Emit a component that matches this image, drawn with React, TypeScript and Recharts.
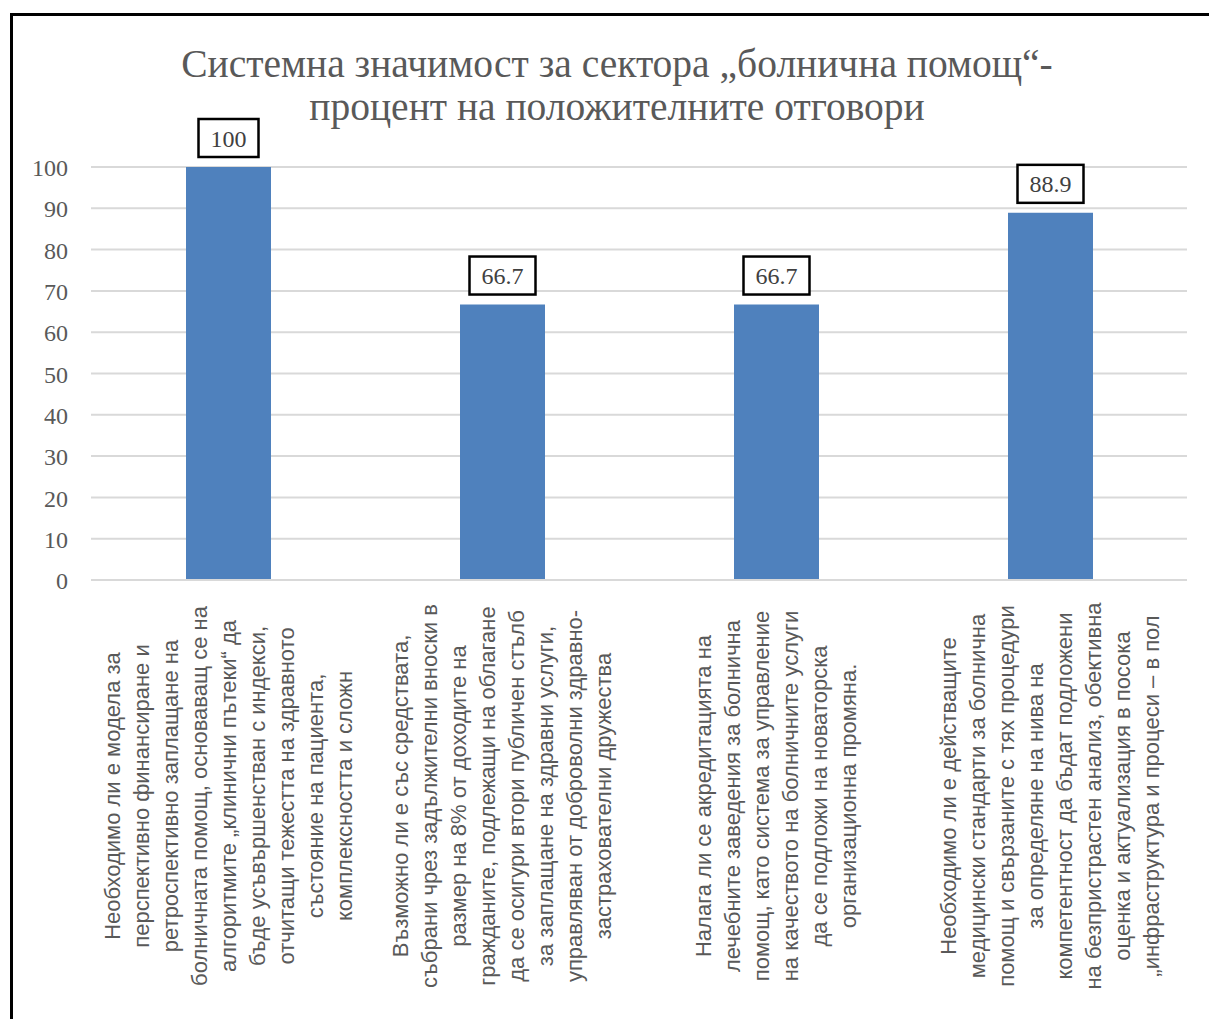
import { Bar, BarChart, CartesianGrid, LabelList, XAxis, YAxis } from "recharts";

const titleLines = [
  "Системна значимост за сектора „болнична помощ“-",
  "процент на положителните отговори",
];

const categories = ["q1", "q2", "q3", "q4"];

const categoryLines: string[][] = [
  [
    "Необходимо ли е модела за",
    "перспективно финансиране и",
    "ретроспективно заплащане на",
    "болничната помощ, основаващ се на",
    "алгоритмите „клинични пътеки“ да",
    "бъде усъвършенстван с индекси,",
    "отчитащи тежестта на здравното",
    "състояние на пациента,",
    "комплексността и сложн",
  ],
  [
    "Възможно ли е със средствата,",
    "събрани чрез задължителни вноски в",
    "размер на 8% от доходите на",
    "гражданите, подлежащи на облагане",
    "да се осигури втори публичен стълб",
    "за заплащане на здравни услуги,",
    "управляван от доброволни здравно-",
    "застрахователни дружества",
  ],
  [
    "Налага ли се акредитацията на",
    "лечебните заведения за болнична",
    "помощ, като система за управление",
    "на качеството на болничните услуги",
    "да се подложи на новаторска",
    "организационна промяна.",
  ],
  [
    "Необходимо ли е действащите",
    "медицински стандарти за болнична",
    "помощ и свързаните с тях процедури",
    "за определяне на нива на",
    "компетентност да бъдат подложени",
    "на безпристрастен анализ, обективна",
    "оценка и актуализация в посока",
    "„инфраструктура и процеси – в пол",
  ],
];

const values = [100, 66.7, 66.7, 88.9];

const yTicks = [0, 10, 20, 30, 40, 50, 60, 70, 80, 90, 100];

const data = categories.map((c, i) => ({ name: c, value: values[i] }));

const serif = "'Liberation Serif', 'DejaVu Serif', serif";
const sans = "'Liberation Sans', Arial, sans-serif";

function CategoryTick(props: any) {
  const { x, y, payload } = props;
  const idx = categories.indexOf(payload.value);
  const lines = categoryLines[idx] || [];
  const step = 29;
  return (
    <g transform={`translate(${x},${y + 208}) rotate(-90)`}>
      {lines.map((line, i) => (
        <text
          key={i}
          x={0}
          y={(i - (lines.length - 1) / 2) * step}
          dy="0.35em"
          textAnchor="middle"
          fontFamily={sans}
          fontSize={22}
          fill="#595959"
        >
          {line}
        </text>
      ))}
    </g>
  );
}

function ValueTick(props: any) {
  const { y, payload } = props;
  return (
    <text x={68} y={y} dy="0.38em" textAnchor="end" fontFamily={serif} fontSize={24} fill="#595959">
      {payload.value}
    </text>
  );
}

function BoxLabel(props: any) {
  const { x, y, width, value } = props;
  const cx = x + width / 2;
  const txt = String(value);
  const w = txt.replace(".", "").length * 12 + (txt.includes(".") ? 6 : 0) + 24;
  const h = 38;
  const top = y - 10 - h;
  return (
    <g>
      <rect x={cx - w / 2} y={top} width={w} height={h} fill="#fff" stroke="#000" strokeWidth={2.5} />
      <text x={cx} y={top + h / 2} dy="0.36em" textAnchor="middle" fontFamily={serif} fontSize={24} fill="#404040">
        {txt}
      </text>
    </g>
  );
}

export default function App() {
  return (
    <div
      style={{
        position: "fixed",
        left: 0,
        top: 0,
        width: 1209,
        height: 1019,
        overflow: "hidden",
        background: "#fff",
      }}
    >
      <div
        style={{
          position: "absolute",
          left: 10,
          top: 13,
          width: 1300,
          height: 1100,
          borderTop: "3px solid #000",
          borderLeft: "3px solid #000",
        }}
      />
      <svg style={{ position: "absolute", left: 0, top: 0 }} width={1209} height={140}>
        {titleLines.map((t, i) => (
          <text
            key={i}
            x={617}
            y={77 + i * 43}
            textAnchor="middle"
            fontFamily={serif}
            fontSize={39.5}
            fill="#595959"
          >
            {t}
          </text>
        ))}
      </svg>
      <div style={{ position: "absolute", left: 0, top: 0 }}>
        <BarChart
          width={1209}
          height={1019}
          data={data}
          margin={{ top: 167, right: 22, bottom: 39, left: 20 }}
        >
          <CartesianGrid vertical={false} stroke="#d9d9d9" strokeWidth={2} />
          <XAxis
            dataKey="name"
            height={400}
            axisLine={{ stroke: "#d9d9d9", strokeWidth: 2 }}
            tickLine={false}
            tick={<CategoryTick />}
            interval={0}
          />
          <YAxis
            width={71}
            domain={[0, 100]}
            ticks={yTicks}
            axisLine={false}
            tickLine={false}
            tick={<ValueTick />}
            tickMargin={0}
          />
          <Bar dataKey="value" fill="#4f81bd" barSize={85} isAnimationActive={false}>
            <LabelList dataKey="value" content={<BoxLabel />} />
          </Bar>
        </BarChart>
      </div>
    </div>
  );
}
